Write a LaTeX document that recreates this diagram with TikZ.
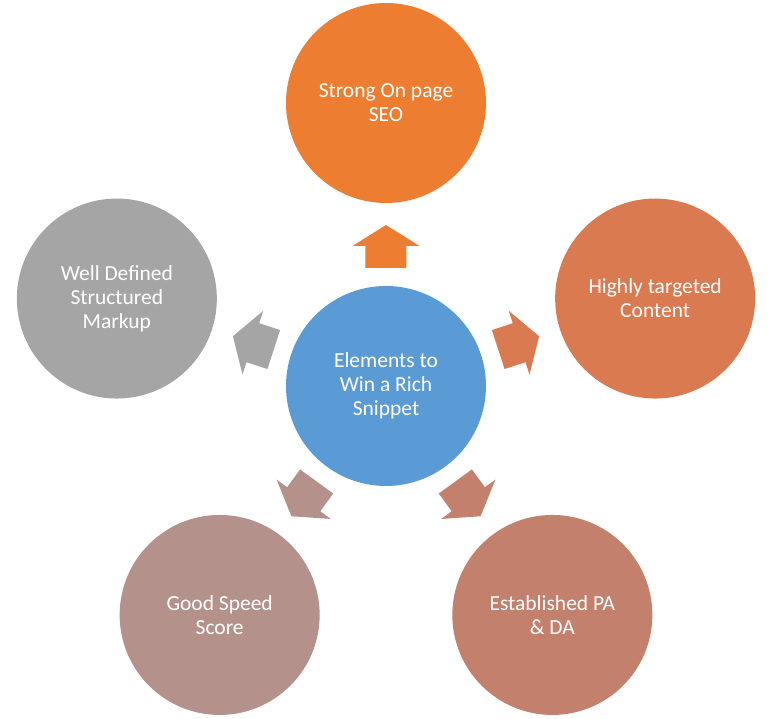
\documentclass[tikz,border=0pt]{standalone}
\usepackage{fontspec}
\setmainfont{Carlito}
\usepackage{tikz}

\definecolor{seoorange}{HTML}{ED7D31}
\definecolor{contentorange}{HTML}{DA7A50}
\definecolor{padared}{HTML}{C3806C}
\definecolor{speedbrown}{HTML}{B4918A}
\definecolor{markupgray}{HTML}{A5A5A5}
\definecolor{centerblue}{HTML}{5B9BD5}

\tikzset{
  bubble/.style={circle, minimum size=200pt, inner sep=0pt, text=white,
    align=center, font=\fontsize{21.5}{24}\selectfont}
}

\begin{document}
\begin{tikzpicture}[x=1pt,y=1pt]
  \useasboundingbox (-386,-333) rectangle (386,386);
  \node[bubble, fill=centerblue] (core) at (0,0) {Elements to\\Win a Rich\\Snippet};
  \node[bubble, fill=seoorange] (seo) at (90:283) {Strong On page\\SEO};
  \node[bubble, fill=contentorange] (content) at (18:283) {Highly targeted\\Content};
  \node[bubble, fill=padared] (pada) at (-54:283) {Established PA\\\& DA};
  \node[bubble, fill=speedbrown] (speed) at (-126:283) {Good Speed\\Score};
  \node[bubble, fill=markupgray] (markup) at (162:283) {Well Defined\\Structured\\Markup};
  \begin{scope}[rotate=90]
   \fill[seoorange] (118,-20.5) -- (140,-20.5) -- (140,-33.5) -- (161,0) -- (140,33.5) -- (140,20.5) -- (118,20.5) -- cycle;
  \end{scope}
  \begin{scope}[rotate=18]
   \fill[contentorange] (118,-20.5) -- (140,-20.5) -- (140,-33.5) -- (161,0) -- (140,33.5) -- (140,20.5) -- (118,20.5) -- cycle;
  \end{scope}
  \begin{scope}[rotate=-54]
   \fill[padared] (118,-20.5) -- (140,-20.5) -- (140,-33.5) -- (161,0) -- (140,33.5) -- (140,20.5) -- (118,20.5) -- cycle;
  \end{scope}
  \begin{scope}[rotate=-126]
   \fill[speedbrown] (118,-20.5) -- (140,-20.5) -- (140,-33.5) -- (161,0) -- (140,33.5) -- (140,20.5) -- (118,20.5) -- cycle;
  \end{scope}
  \begin{scope}[rotate=162]
   \fill[markupgray] (118,-20.5) -- (140,-20.5) -- (140,-33.5) -- (161,0) -- (140,33.5) -- (140,20.5) -- (118,20.5) -- cycle;
  \end{scope}
\end{tikzpicture}
\end{document}
